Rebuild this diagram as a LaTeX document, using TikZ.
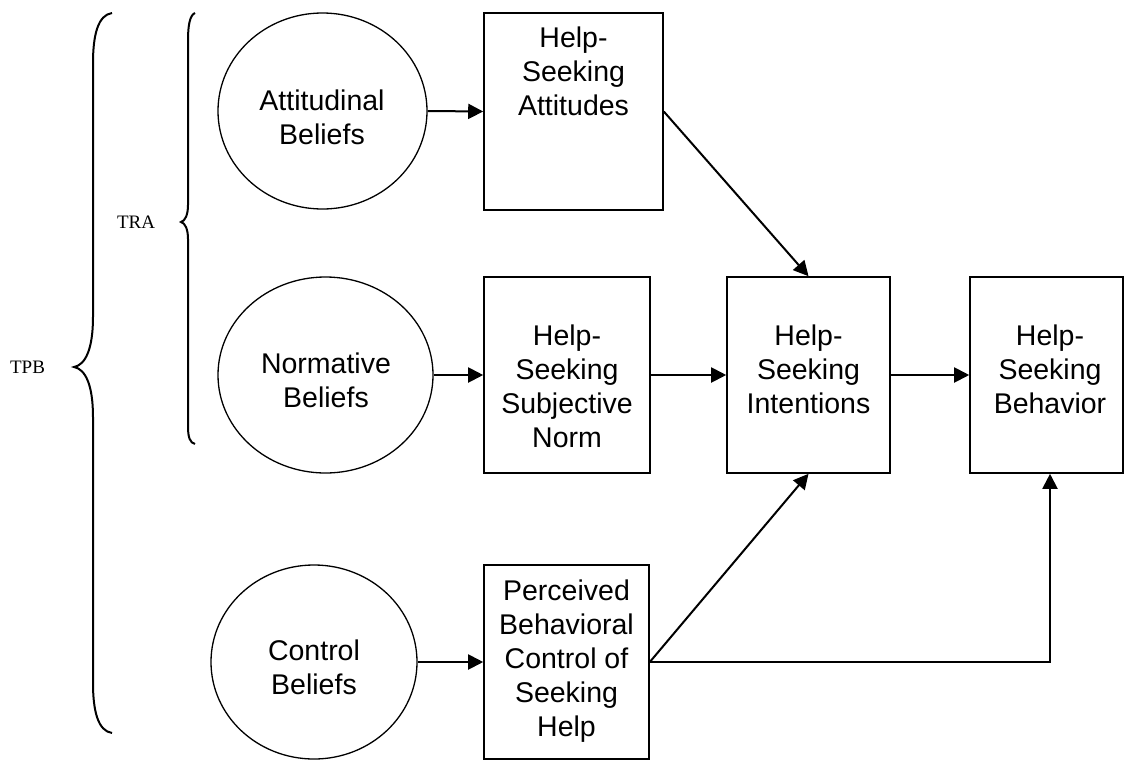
\documentclass[tikz,border=0pt]{standalone}
\usepackage{fontspec}
\setmainfont{Liberation Sans}
\newfontfamily\serifx{Liberation Serif}
\usetikzlibrary{shapes.geometric,arrows.meta,calc}
\begin{document}
\begin{tikzpicture}[x=1pt,y=-1pt,
  box/.style={draw, line width=1.6pt, inner sep=0pt},
  ell/.style={draw, ellipse, line width=1.3pt, inner sep=0pt},
  txt/.style={font=\fontsize{28.5}{34}\selectfont, align=center, inner sep=0pt, anchor=north},
  lbl/.style={font=\serifx\fontsize{19}{22}\selectfont, inner sep=0pt},
  arr/.style={line width=2pt, -{Triangle[length=15pt,width=15pt]}},
  brc/.style={line width=2pt}]
\useasboundingbox (0,0) rectangle (1126,760);
\clip (0,0) rectangle (1126,760);
% circles
\node[ell, minimum width=209pt, minimum height=196pt] (attc) at (322.5,111) {};
\node[ell, minimum width=215pt, minimum height=196pt] (normc) at (325.5,375) {};
\node[ell, minimum width=206pt, minimum height=194pt] (ctrlc) at (314,662) {};
% boxes
\node[box, minimum width=179pt, minimum height=197pt] (attb) at (573.5,111.5) {};
\node[box, minimum width=166pt, minimum height=196pt] (subb) at (567,375) {};
\node[box, minimum width=163pt, minimum height=196pt] (intb) at (808.5,375) {};
\node[box, minimum width=153pt, minimum height=196pt] (behb) at (1046.5,375) {};
\node[box, minimum width=165pt, minimum height=194pt] (pbcb) at (566.5,662) {};
% texts
\node[txt] (attct) at (322,90) {Attitudinal\\Beliefs};
\node[txt] (normct) at (326,353) {Normative\\Beliefs};
\node[txt] (ctrlct) at (314,640) {Control\\Beliefs};
\node[txt] (attbt) at (573.5,27) {Help-\\Seeking\\Attitudes};
\node[txt] (subbt) at (567,325) {Help-\\Seeking\\Subjective\\Norm};
\node[txt] (intbt) at (808.5,325) {Help-\\Seeking\\Intentions};
\node[txt] (behbt) at (1050,325) {Help-\\Seeking\\Behavior};
\node[txt] (pbcbt) at (566.5,580) {Perceived\\Behavioral\\Control of\\Seeking\\Help};
% labels
\node[lbl] (tra) at (136,222) {TRA};
\node[lbl] (tpb) at (27.5,367) {TPB};
% braces
\draw[brc] (112,13) .. controls (98,15) and (93,35) .. (93,63) -- (93,317)
  .. controls (93,350) and (85,365) .. (74,367)
  .. controls (85,369) and (93,384) .. (93,417) -- (93,683)
  .. controls (93,711) and (98,731) .. (112,733);
\draw[brc] (195,13) .. controls (190,15) and (188,25) .. (188,40) -- (188,205)
  .. controls (188,215) and (185,221) .. (181,222)
  .. controls (185,223) and (188,229) .. (188,239) -- (188,427)
  .. controls (188,437) and (190,443) .. (195,444);
% connectors
\draw[arr] (attc.east) -- (attb.west);
\draw[arr] (normc.east) -- (subb.west);
\draw[arr] (ctrlc.east) -- (pbcb.west);
\draw[arr] (attb.east) -- (intb.north);
\draw[arr] (subb.east) -- (intb.west);
\draw[arr] (intb.east) -- (behb.west);
\draw[arr] (pbcb.east) -- (intb.south);
\draw[arr] (pbcb.east) -| ($(behb.south)+(3.5,0)$);
\end{tikzpicture}
\end{document}
